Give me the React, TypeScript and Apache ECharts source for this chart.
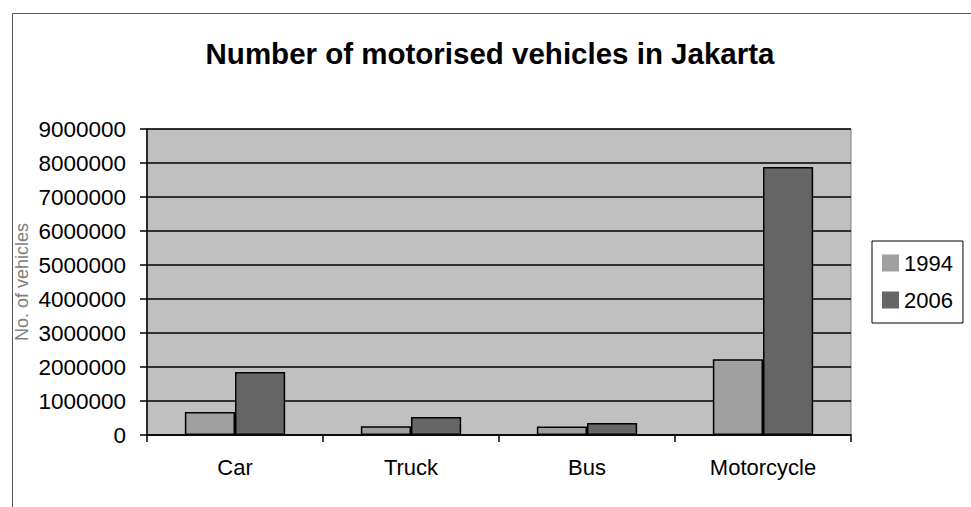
import React, { useEffect, useRef } from "react";
import * as echarts from "echarts";

const categories = ["Car", "Truck", "Bus", "Motorcycle"];
const seriesNames = ["1994", "2006"];
const values1994 = [680000, 260000, 250000, 2230000];
const values2006 = [1850000, 530000, 350000, 7880000];

export default function App() {
  const ref = useRef<HTMLDivElement>(null);
  useEffect(() => {
    if (!ref.current) return;
    const chart = echarts.init(ref.current, undefined, { renderer: "svg" });
    const font = "'Liberation Sans', Arial, sans-serif";
    chart.setOption({
      animation: false,
      backgroundColor: "#ffffff",
      title: {
        text: "Number of motorised vehicles in Jakarta",
        left: 485,
        textAlign: "center",
        top: 33,
        textStyle: { fontFamily: font, fontSize: 29.5, fontWeight: "bold", color: "#000" },
      },
      graphic: [
        {
          type: "rect",
          shape: { x: 12.5, y: 13.5, width: 1100, height: 700 },
          style: { fill: "none", stroke: "#555", lineWidth: 1 },
          silent: true,
        },
      ],
      legend: {
        orient: "vertical",
        left: 872,
        top: 241,
        width: 93,
        padding: [11, 10, 12, 10],
        backgroundColor: "#fff",
        borderColor: "#000",
        borderWidth: 1,
        itemWidth: 17,
        itemHeight: 17,
        itemGap: 15,
        icon: "rect",
        itemStyle: { borderWidth: 0 },
        textStyle: { fontFamily: font, fontSize: 22, lineHeight: 22, color: "#000" },
        data: seriesNames,
      },
      grid: {
        left: 147,
        right: 120,
        top: 129,
        bottom: 72,
        containLabel: false,
        outerBoundsMode: "none",
        show: true,
        backgroundColor: "#C0C0C0",
        borderColor: "#808080",
        borderWidth: 1,
      },
      xAxis: {
        type: "category",
        data: categories,
        axisLine: { lineStyle: { color: "#000", width: 1.5 } },
        axisTick: { show: true, length: 7, alignWithLabel: false, lineStyle: { color: "#000", width: 1.5 } },
        axisLabel: { fontFamily: font, fontSize: 22, color: "#000", margin: 21 },
        splitLine: { show: false },
      },
      yAxis: {
        type: "value",
        min: 0,
        max: 9000000,
        interval: 1000000,
        name: "No. of vehicles",
        nameLocation: "middle",
        nameRotate: 90,
        nameGap: 116,
        nameMoveOverlap: false,
        nameTextStyle: { fontFamily: font, fontSize: 18, color: "#808080" },
        axisLine: { show: true, lineStyle: { color: "#000", width: 1.5 } },
        axisTick: { show: true, length: 7, lineStyle: { color: "#000", width: 1.5 } },
        axisLabel: {
          fontFamily: font,
          fontSize: 22.5,
          color: "#000",
          margin: 21,
          formatter: (v: number) => String(Math.round(v)),
        },
        splitLine: { show: true, lineStyle: { color: "#000", width: 1.5 } },
      },
      series: [
        {
          name: seriesNames[0],
          type: "bar",
          data: values1994,
          barGap: "0%",
          barCategoryGap: "43%",
          itemStyle: { color: "#A0A0A0", borderColor: "#000", borderWidth: 1.5 },
        },
        {
          name: seriesNames[1],
          type: "bar",
          data: values2006,
          barGap: "0%",
          barCategoryGap: "43%",
          itemStyle: { color: "#666666", borderColor: "#000", borderWidth: 1.5 },
        },
      ],
    });
    return () => chart.dispose();
  }, []);
  return (
    <div
      ref={ref}
      style={{ position: "fixed", left: 0, top: 0, width: 971, height: 507 }}
    />
  );
}
